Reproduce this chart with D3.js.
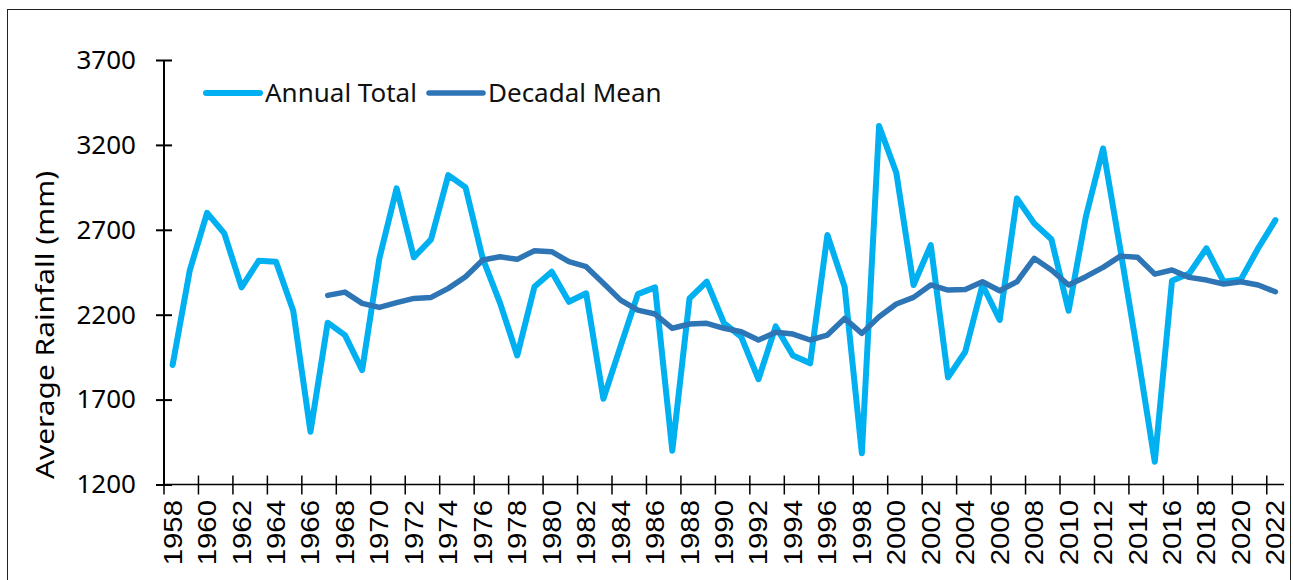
<!DOCTYPE html>
<html>
<head>
<meta charset="utf-8">
<script src="https://cdn.jsdelivr.net/npm/d3@7"></script>
<style>
  body { margin: 0; background: #fff; }
  svg { display: block; }
  .ylab { font-family: "Noto Sans", "Open Sans", sans-serif; font-size: 26px; fill: #000; }
  .xlab { font-family: "Liberation Sans", Arial, sans-serif; font-size: 26px; fill: #000; }
  .leg { font-family: "Noto Sans", "Open Sans", sans-serif; font-size: 26px; fill: #111; }
</style>
</head>
<body>
<div id="chart"></div>
<script>
var years = [1958, 1959, 1960, 1961, 1962, 1963, 1964, 1965, 1966, 1967,
             1968, 1969, 1970, 1971, 1972, 1973, 1974, 1975, 1976, 1977,
             1978, 1979, 1980, 1981, 1982, 1983, 1984, 1985, 1986, 1987,
             1988, 1989, 1990, 1991, 1992, 1993, 1994, 1995, 1996, 1997,
             1998, 1999, 2000, 2001, 2002, 2003, 2004, 2005, 2006, 2007,
             2008, 2009, 2010, 2011, 2012, 2013, 2014, 2015, 2016, 2017,
             2018, 2019, 2020, 2021, 2022];

// annual total rainfall (mm)
var annualTotal = [1904, 2463, 2800, 2679, 2361, 2518, 2512, 2223, 1511, 2153,
                   2080, 1874, 2532, 2944, 2538, 2644, 3022, 2950, 2530, 2270,
                   1960, 2365, 2453, 2276, 2326, 1705, 2015, 2321, 2361, 1399,
                   2296, 2395, 2150, 2070, 1820, 2131, 1960, 1914, 2669, 2365,
                   1384, 3311, 3036, 2375, 2610, 1831, 1982, 2375, 2169, 2885,
                   2738, 2644, 2223, 2777, 3179, 2585, 1975, 1334, 2400, 2443,
                   2591, 2394, 2408, 2591, 2757];

// 10-yr mean, starts 1967
var decadalMean = [null, null, null, null, null, null, null, null, null, 2314,
                   2333, 2267, 2243, 2271, 2296, 2302, 2355, 2424, 2522, 2541,
                   2526, 2577, 2571, 2512, 2483, 2385, 2286, 2227, 2204, 2120,
                   2145, 2149, 2120, 2100, 2051, 2096, 2086, 2051, 2080, 2178,
                   2090, 2188, 2263, 2302, 2375, 2345, 2349, 2394, 2341, 2394,
                   2532, 2463, 2375, 2424, 2479, 2545, 2538, 2439, 2463, 2420,
                   2404, 2381, 2394, 2375, 2335];

var yTicks = [1200, 1700, 2200, 2700, 3200, 3700];
var yearLabels = years.filter(function(d) { return d % 2 === 0; });

var seriesNames = ["Annual Total", "Decadal Mean"];
var seriesColors = ["#00B0F0", "#2E75B6"];

var W = 1293, H = 580;

var svg = d3.select("#chart").append("svg")
    .attr("width", W)
    .attr("height", H);

// outer frame
svg.append("rect")
    .attr("x", 7.5).attr("y", 9.5)
    .attr("width", 1283).attr("height", 600)
    .attr("fill", "none")
    .attr("stroke", "#222")
    .attr("stroke-width", 1);

var x = d3.scaleBand().domain(years).range([164, 1284]);
var y = d3.scaleLinear().domain([1200, 3700]).range([484.5, 60]);

// y axis
var yAxis = svg.append("g")
    .attr("transform", "translate(164,0)")
    .call(d3.axisLeft(y).tickValues(yTicks).tickSize(8).tickPadding(20).tickFormat(d3.format("d")));
yAxis.select(".domain").attr("stroke", "#000").attr("stroke-width", 2).attr("d", "M0," + y(1200) + "V" + y(3700));
yAxis.selectAll(".tick line").attr("x1", -8).attr("x2", 8).attr("stroke", "#000").attr("stroke-width", 2);
yAxis.selectAll(".tick text").attr("class", "ylab").attr("font-size", null).attr("font-family", null);

// x axis: line + ticks between every second category
var xg = svg.append("g");
xg.append("line")
    .attr("x1", x.range()[0]).attr("x2", x.range()[1])
    .attr("y1", y(1200)).attr("y2", y(1200))
    .attr("stroke", "#000").attr("stroke-width", 1.5);

var tickYears = years.filter(function(d, i) { return i % 2 === 0; });
xg.selectAll(".xt").data(tickYears).enter().append("line")
    .attr("x1", function(d) { return x(d); })
    .attr("x2", function(d) { return x(d); })
    .attr("y1", y(1200) - 9).attr("y2", y(1200) + 10)
    .attr("stroke", "#000").attr("stroke-width", 1.5);

xg.selectAll(".xlab").data(yearLabels).enter().append("text")
    .attr("class", "xlab")
    .attr("transform", function(d) {
      return "translate(" + (x(d) + x.bandwidth() / 2 + 9) + "," + 500 + ") rotate(-90) scale(1.13,1)";
    })
    .attr("text-anchor", "end")
    .text(function(d) { return d; });

// axis title
svg.append("text")
    .attr("class", "ylab")
    .attr("transform", "translate(54,325) rotate(-90) scale(1.15,1)")
    .attr("text-anchor", "middle")
    .text("Average Rainfall (mm)");

// lines
var line = d3.line()
    .defined(function(d) { return d[1] != null; })
    .x(function(d) { return x(d[0]) + x.bandwidth() / 2; })
    .y(function(d) { return y(d[1]); });

var seriesData = [annualTotal, decadalMean];
var widths = [6, 5.5];

seriesData.forEach(function(vals, k) {
  svg.append("path")
      .datum(years.map(function(yr, i) { return [yr, vals[i]]; }))
      .attr("fill", "none")
      .attr("stroke", seriesColors[k])
      .attr("stroke-width", widths[k])
      .attr("stroke-linejoin", "round")
      .attr("stroke-linecap", "round")
      .attr("d", line);
});

// legend
var legX = [206, 429];
var leg = svg.append("g");
seriesNames.forEach(function(name, k) {
  leg.append("line")
      .attr("x1", legX[k]).attr("x2", legX[k] + 54)
      .attr("y1", 93).attr("y2", 93)
      .attr("stroke", seriesColors[k])
      .attr("stroke-width", widths[k])
      .attr("stroke-linecap", "round");
  leg.append("text")
      .attr("class", "leg")
      .attr("x", legX[k] + 59)
      .attr("y", 102)
      .text(name);
});
</script>
</body>
</html>
